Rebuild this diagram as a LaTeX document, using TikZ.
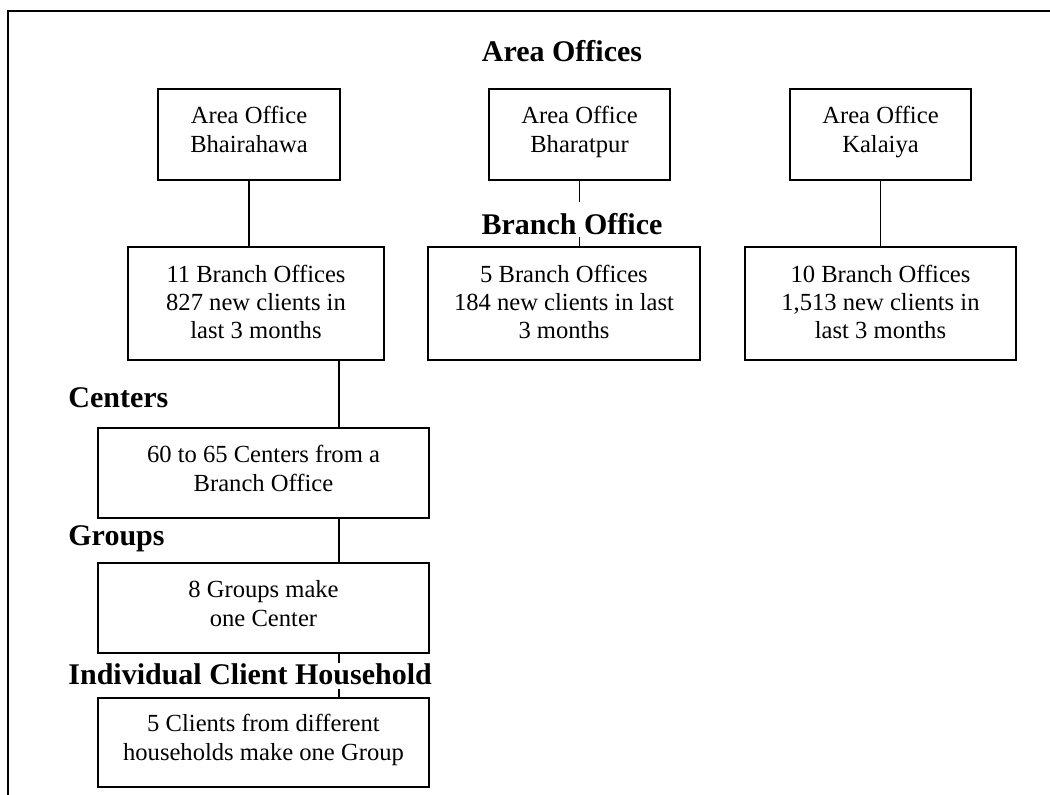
\documentclass[tikz,border=0pt]{standalone}
\usepackage{fontspec}
\setmainfont{Liberation Serif}
\usetikzlibrary{calc}

\begin{document}
\begin{tikzpicture}[
    x=0.5pt, y=-0.5pt,
    line join=miter,
    box/.style={draw, line width=1pt, inner sep=0pt, align=center,
                font=\fontsize{12.3}{14.5}\selectfont,
                execute at end node={\rule[-#1]{0pt}{0pt}}},
    box/.default=5pt,
    heading/.style={inner sep=0pt, font=\bfseries\fontsize{15}{18}\selectfont},
    link/.style={line width=0.75pt},
    ]

    % Determines the boundries
    \useasboundingbox (0,0) rectangle (1050,795);
    \draw[line width=1pt] (7.5,800) -- (7.5,11) -- (1055,11);

    \def\topH{91}           % height of the area office boxes
    \def\midH{113}          % height of the branch office boxes
    \def\lowH{90}           % height of the lower boxes

    % x of the line down the left column
    \coordinate (trunk) at (339,0);

    % The area offices
    \foreach \nm/\cx/\bw/\txt in {ao1/249/182/{Area Office\\Bhairahawa},
                                  ao2/579.5/181/{Area Office\\Bharatpur},
                                  ao3/880.5/181/{Area Office\\Kalaiya}}{
        \node[box, minimum width=\bw*0.5pt, minimum height=\topH*0.5pt]
            (\nm) at (\cx,134.5) {\txt};
    }

    % The branch offices
    \foreach \nm/\cx/\bw/\txt in {bo1/256/256/{11 Branch Offices\\827 new clients in\\last 3 months},
                                  bo2/564/272/{5 Branch Offices\\184 new clients in last\\3 months},
                                  bo3/880.5/271/{10 Branch Offices\\1,513 new clients in\\last 3 months}}{
        \node[box=2pt, font=\fontsize{12.3}{14}\selectfont,
              minimum width=\bw*0.5pt, minimum height=\midH*0.5pt]
            (\nm) at (\cx,303.5) {\txt};
    }

    % Centers, groups and households
    \node[box, minimum width=331*0.5pt, minimum height=\lowH*0.5pt] (cen) at (263.5,473)
        {60 to 65 Centers from a\\Branch Office};
    \node[box, minimum width=331*0.5pt, minimum height=\lowH*0.5pt] (grp) at (263.5,608)
        {8 Groups make\\one Center};
    \node[box, minimum width=331*0.5pt, minimum height=89*0.5pt] (hh) at (263.5,742.5)
        {5 Clients from different\\households make one Group};

    % The headings
    \node[heading, anchor=base] (lblArea) at (562,62) {Area Offices};
    \node[heading, anchor=base, text height=16.5pt, text depth=1pt] (lblBranch) at (572,235) {Branch Office};
    \node[heading, anchor=base west] (lblCenters) at (68,408) {Centers};
    \node[heading, anchor=base west] (lblGroups) at (68,546) {Groups};
    \node[heading, anchor=base west, text height=11pt, text depth=2pt] (lblHouse) at (68,685) {Individual Client Household};

    % The links
    \draw[link] (ao1.south) -- (ao1.south |- bo1.north);
    \draw[link] (ao2.south) -- (ao2.south |- lblBranch.north);
    \draw[link] (ao2.south |- lblBranch.south) -- (ao2.south |- bo2.north);
    \draw[link] (ao3.south) -- (ao3.south |- bo3.north);
    \draw[link] (trunk |- bo1.south) -- (trunk |- cen.north);
    \draw[link] (trunk |- cen.south) -- (trunk |- grp.north);
    \draw[link] (trunk |- grp.south) -- (trunk |- lblHouse.north);
    \draw[link] (trunk |- lblHouse.south) -- (trunk |- hh.north);
\end{tikzpicture}
\end{document}
